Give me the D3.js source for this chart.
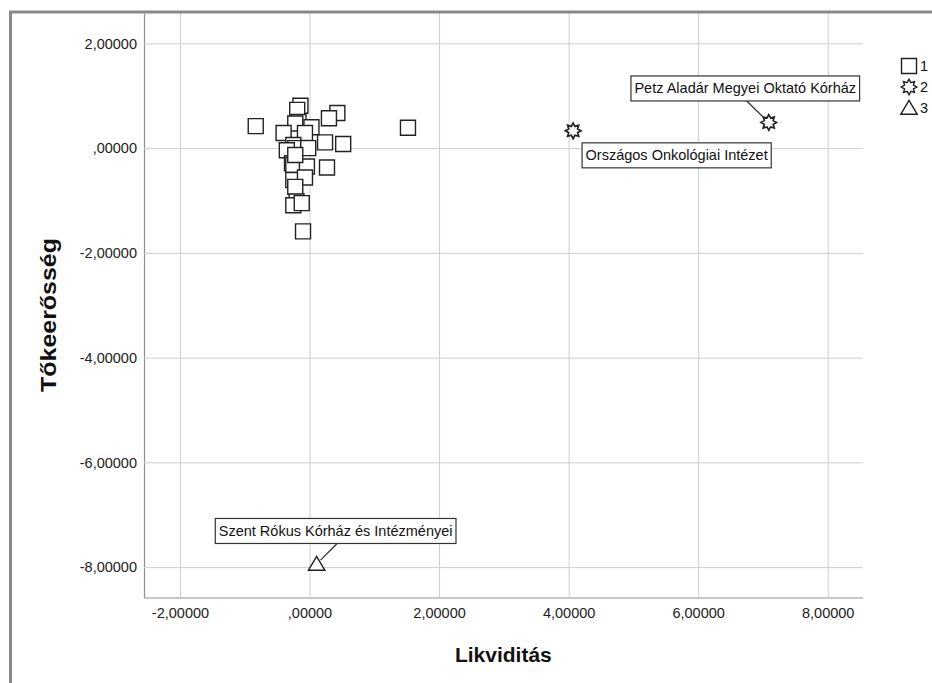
<!DOCTYPE html>
<html>
<head>
<meta charset="utf-8">
<script src="https://cdn.jsdelivr.net/npm/d3@7"></script>
<style>
  html, body { margin: 0; padding: 0; background: #fff; }
  svg { display: block; font-family: "Liberation Sans", Arial, sans-serif; }
</style>
</head>
<body>
<svg id="chart" width="932" height="683"></svg>
<script>
// Cluster 1 (squares): Likviditás / Tőkeerősség values
const cluster1X = [-0.83, 1.52, 0.43, 0.30, 0.24, 0.52, 0.27, -0.10,
                   -0.14, -0.19, -0.17, -0.22, 0.03, -0.40, -0.07, -0.25, -0.22, -0.35,
                   -0.02, -0.27, -0.25, -0.04, -0.25, -0.07, -0.22, -0.20, -0.25, -0.12, -0.22];
const cluster1Y = [0.42, 0.39, 0.67, 0.57, 0.11, 0.08, -0.37, -1.59,
                   0.81, 0.73, 0.50, 0.47, 0.40, 0.29, 0.29, 0.06, 0.00, -0.04,
                   0.00, -0.29, -0.32, -0.35, -0.61, -0.56, -0.74, -1.02, -1.09, -1.05, -0.13];
// Cluster 2 (stars)
const cluster2X = [4.07, 7.09];
const cluster2Y = [0.33, 0.49];
// Cluster 3 (triangle)
const cluster3X = [0.11];
const cluster3Y = [-7.94];

const clusterNames = ["1", "2", "3"];
const clusterLabels = [
  { cluster: 2, index: 0, text: "Országos Onkológiai Intézet" },
  { cluster: 2, index: 1, text: "Petz Aladár Megyei Oktató Kórház" },
  { cluster: 3, index: 0, text: "Szent Rókus Kórház és Intézményei" }
];

const xTicks = [-2, 0, 2, 4, 6, 8];
const yTicks = [2, 0, -2, -4, -6, -8];
const xTitle = "Likviditás";
const yTitle = "Tőkeerősség";

// ---- layout ----
const plot = { left: 144, right: 862.7, top: 13, bottom: 597.5 };
const tickFont = 14.5;

const x = d3.scaleLinear().domain([-2.555, 8.54]).range([plot.left, plot.right]);
const y = d3.scaleLinear().domain([-8.58, 2.58]).range([plot.bottom, plot.top]);

// SPSS style numbers: comma decimal, no leading zero for |v| < 1
const fmt = v => {
  let s = Math.abs(v).toFixed(5).replace(".", ",");
  if (Math.abs(v) < 1) s = s.replace(/^0/, "");
  return (v < 0 ? "-" : "") + s;
};

const svg = d3.select("#chart");

// gridlines + axes
const gx = svg.append("g")
  .attr("transform", `translate(0,${plot.bottom})`)
  .call(d3.axisBottom(x).tickValues(xTicks).tickFormat(fmt)
        .tickSizeInner(-(plot.bottom - plot.top)).tickSizeOuter(0).tickPadding(10));
const gy = svg.append("g")
  .attr("transform", `translate(${plot.left},0)`)
  .call(d3.axisLeft(y).tickValues(yTicks).tickFormat(fmt)
        .tickSizeInner(-(plot.right - plot.left)).tickSizeOuter(0).tickPadding(7));

[gx, gy].forEach(g => {
  g.selectAll(".tick line").attr("stroke", "#cdcdcd").attr("stroke-width", 1);
  g.selectAll(".tick text").attr("fill", "#222").style("font-size", tickFont + "px")
    .style("font-family", '"Liberation Sans", Arial, sans-serif');
  g.select(".domain").attr("stroke", "#8f8f8f").attr("stroke-width", 1.2);
});
gy.raise(); gx.raise();

// axis titles
svg.append("text")
  .attr("x", (plot.left + plot.right) / 2).attr("y", 662)
  .attr("text-anchor", "middle").attr("font-weight", "bold")
  .attr("font-size", 21).attr("fill", "#111").text(xTitle);
svg.append("text")
  .attr("transform", `translate(56,315) rotate(-90)`)
  .attr("text-anchor", "middle").attr("font-weight", "bold")
  .attr("font-size", 22).attr("fill", "#111")
  .attr("textLength", 154).attr("lengthAdjust", "spacingAndGlyphs")
  .text(yTitle);

// ---- marker shapes ----
const starPath = (ro, ri, n) => {
  const pts = d3.range(n * 2).map(i => {
    const r = i % 2 === 0 ? ro : ri;
    const a = Math.PI * i / n - Math.PI / 2;
    return [r * Math.cos(a), r * Math.sin(a)];
  });
  return d3.line()(pts) + "Z";
};
const squarePath = s => d3.line()([[-s/2,-s/2],[s/2,-s/2],[s/2,s/2],[-s/2,s/2]]) + "Z";
const trianglePath = (w, h) => d3.line()([[0,-h*0.55],[w/2,h*0.45],[-w/2,h*0.45]]) + "Z";

const shapes = {
  1: squarePath(15),
  2: starPath(7.8, 4.8, 8),
  3: trianglePath(16.5, 14)
};

const points = [
  ...cluster1X.map((v, i) => ({ cluster: 1, index: i, x: v, y: cluster1Y[i] })),
  ...cluster2X.map((v, i) => ({ cluster: 2, index: i, x: v, y: cluster2Y[i] })),
  ...cluster3X.map((v, i) => ({ cluster: 3, index: i, x: v, y: cluster3Y[i] }))
];

svg.append("g").selectAll("path").data(points).join("path")
  .attr("transform", d => `translate(${x(d.x)},${y(d.y)})`)
  .attr("d", d => shapes[d.cluster])
  .attr("fill", "#fff").attr("stroke", "#222").attr("stroke-width", d => d.cluster === 2 ? 1.7 : 1.4)
  .attr("stroke-linejoin", "miter");

// ---- point labels (boxed callouts) ----
const calloutOffset = {
  "Országos Onkológiai Intézet": { dx: 103.5, dy: 24.5, leader: false },
  "Petz Aladár Megyei Oktató Kórház": { dx: -23.5, dy: -34, leader: true },
  "Szent Rókus Kórház és Intézményei": { dx: 19, dy: -33, leader: true }
};
const pointOf = l => points.find(p => p.cluster === l.cluster && p.index === l.index);

const callouts = svg.append("g");
clusterLabels.forEach(l => {
  const p = pointOf(l);
  const o = calloutOffset[l.text];
  const px = x(p.x), py = y(p.y);
  const cx = px + o.dx, cy = py + o.dy;
  const g = callouts.append("g");
  const t = g.append("text").attr("x", cx).attr("y", cy)
    .attr("text-anchor", "middle").attr("dominant-baseline", "central")
    .attr("font-size", tickFont).attr("fill", "#111").text(l.text);
  const bb = t.node().getBBox();
  const w = bb.width + 7, h = 25;
  if (o.leader) {
    // leader from the box edge to just outside the marker
    const sx = cx + 1.5, sy = o.dy < 0 ? cy + h / 2 : cy - h / 2;
    const vx = sx - px, vy = sy - py, len = Math.hypot(vx, vy);
    g.insert("line", "text")
      .attr("x1", sx).attr("y1", sy)
      .attr("x2", px + vx / len * 5.5).attr("y2", py + vy / len * 5.5)
      .attr("stroke", "#333").attr("stroke-width", 1.3);
  }
  g.insert("rect", "text")
    .attr("x", cx - w / 2).attr("y", cy - h / 2).attr("width", w).attr("height", h)
    .attr("fill", "#fff").attr("stroke", "#333").attr("stroke-width", 1.2);
});

// ---- legend ----
const legend = svg.append("g");
clusterNames.forEach((name, i) => {
  const ly = 66 + i * 21;
  legend.append("path").attr("transform", `translate(909,${ly})`)
    .attr("d", shapes[i + 1]).attr("fill", "#fff").attr("stroke", "#222").attr("stroke-width", 1.4);
  legend.append("text").attr("x", 920).attr("y", ly).attr("dominant-baseline", "central")
    .attr("font-size", tickFont).attr("fill", "#111").text(name);
});

// outer chart frame (runs past the right and bottom edges)
svg.append("rect").attr("x", 10.5).attr("y", 12).attr("width", 1000).attr("height", 1000)
  .attr("fill", "none").attr("stroke", "#888").attr("stroke-width", 3);
</script>
</body>
</html>
